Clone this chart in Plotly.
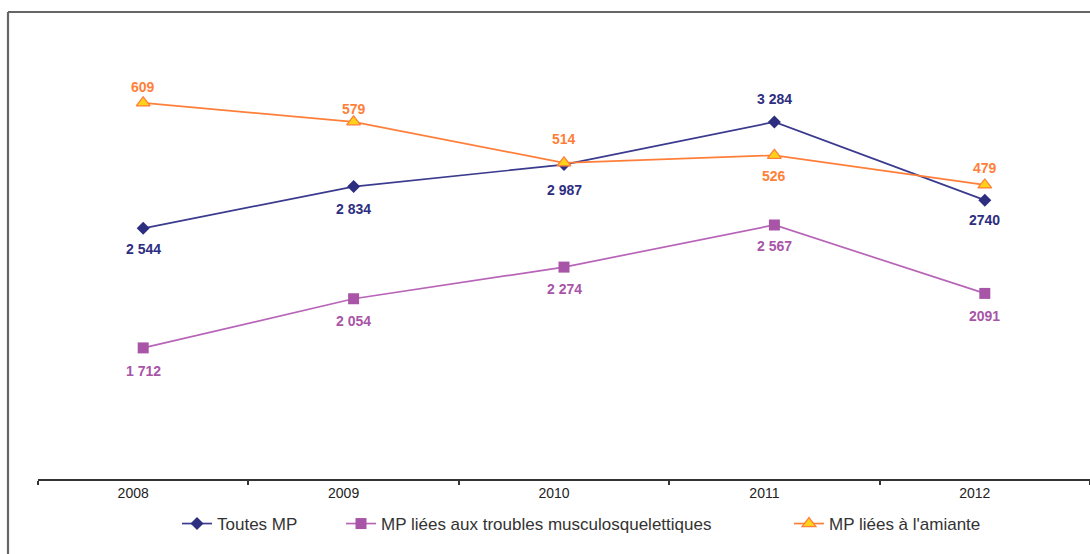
import plotly.graph_objects as go

years = ["2008", "2009", "2010", "2011", "2012"]
toutes_mp = [2544, 2834, 2987, 3284, 2740]
tms = [1712, 2054, 2274, 2567, 2091]
amiante = [609, 579, 514, 526, 479]

toutes_labels = ["2 544", "2 834", "2 987", "3 284", "2740"]
tms_labels = ["1 712", "2 054", "2 274", "2 567", "2091"]
amiante_labels = ["609", "579", "514", "526", "479"]

names = ["Toutes MP", "MP liées aux troubles musculosquelettiques", "MP liées à l'amiante"]

# label vertical offsets (px) - style
toutes_shift = [-21, -22, -25, 23, -20]
tms_shift = [-23, -22, -22, -21, -23]
amiante_shift = [16, 13, 24, -21, 17]

C_NAVY = "#2E2E80"
C_PURPLE = "#A855A8"
C_ORANGE = "#FF7F3A"
C_YELLOW = "#FFD21A"

W, H = 1090, 554
ML, MR, MT, MB = 38, 0, 19, 75
PW, PH = W - ML - MR, H - MT - MB

def px_x(p):
    return (p - ML) / PW

def px_y(p):
    return (H - MB - p) / PH

fig = go.Figure()
fig.add_trace(go.Scatter(
    x=years, y=toutes_mp, name=names[0], mode="lines+markers", legend="legend",
    line=dict(color="#3A3A8E", width=1.7),
    marker=dict(symbol="diamond", size=10, color=C_NAVY),
))
fig.add_trace(go.Scatter(
    x=years, y=tms, name=names[1], mode="lines+markers", legend="legend2",
    line=dict(color="#B865B8", width=1.7),
    marker=dict(symbol="square", size=11, color=C_PURPLE),
))
fig.add_trace(go.Scatter(
    x=years, y=amiante, name=names[2], mode="lines+markers", yaxis="y2", legend="legend3",
    line=dict(color=C_ORANGE, width=1.7),
    marker=dict(symbol="triangle-up", size=12, color=C_YELLOW,
                line=dict(color=C_ORANGE, width=1.3)),
))

annotations = []
lab_font = "Liberation Sans, Arial, sans-serif"
for i, (v, t, s) in enumerate(zip(toutes_mp, toutes_labels, toutes_shift)):
    annotations.append(dict(x=i, y=v, xref="x", yref="y", text=f"<b>{t}</b>",
                            showarrow=False, yshift=s,
                            font=dict(family=lab_font, size=14, color=C_NAVY)))
for i, (v, t, s) in enumerate(zip(tms, tms_labels, tms_shift)):
    annotations.append(dict(x=i, y=v, xref="x", yref="y", text=f"<b>{t}</b>",
                            showarrow=False, yshift=s,
                            font=dict(family=lab_font, size=14, color=C_PURPLE)))
for i, (v, t, s) in enumerate(zip(amiante, amiante_labels, amiante_shift)):
    annotations.append(dict(x=i, y=v, xref="x", yref="y2", text=f"<b>{t}</b>",
                            showarrow=False, yshift=s,
                            font=dict(family=lab_font, size=14, color=C_ORANGE)))

# frame lines (left and top)
x_frame = px_x(8)
y_frame_top = px_y(12)
y_frame_bot = px_y(H + 5)
shapes = [
    dict(type="line", xref="paper", yref="paper", x0=x_frame, x1=x_frame,
         y0=y_frame_bot, y1=y_frame_top, line=dict(color="#666666", width=2.2)),
    dict(type="line", xref="paper", yref="paper", x0=x_frame, x1=1.05,
         y0=y_frame_top, y1=y_frame_top, line=dict(color="#666666", width=2.2)),
]

leg_font = dict(family=lab_font, size=17, color="#333333")
leg_common = dict(orientation="h", yanchor="middle", xanchor="left",
                  font=leg_font, bgcolor="rgba(0,0,0,0)", itemwidth=30)

fig.update_layout(
    width=W, height=H,
    margin=dict(l=ML, r=MR, t=MT, b=MB),
    paper_bgcolor="white", plot_bgcolor="white",
    font=dict(family=lab_font, size=12, color="#333333"),
    showlegend=True,
    legend=dict(x=px_x(177), y=px_y(524), **leg_common),
    legend2=dict(x=px_x(341), y=px_y(524), **leg_common),
    legend3=dict(x=px_x(789), y=px_y(524), **leg_common),
    xaxis=dict(type="category", range=[-0.5, 4.5], showgrid=False, zeroline=False,
               showline=True, linecolor="#333333", linewidth=1.5,
               ticks="outside", tickson="boundaries", ticklen=4,
               tickcolor="#333333", tickwidth=1.5, ticklabelshift=-10,
               tickfont=dict(family=lab_font, size=14, color="#222222")),
    yaxis=dict(range=[800, 4000], showgrid=False, zeroline=False, showline=False,
               showticklabels=False, ticks=""),
    yaxis2=dict(range=[13, 742], overlaying="y", side="right", showgrid=False,
                zeroline=False, showline=False, showticklabels=False, ticks=""),
    annotations=annotations,
    shapes=shapes,
)

fig.write_html("out.html", config={"displayModeBar": False},
               post_script="document.body.style.margin='0';")
